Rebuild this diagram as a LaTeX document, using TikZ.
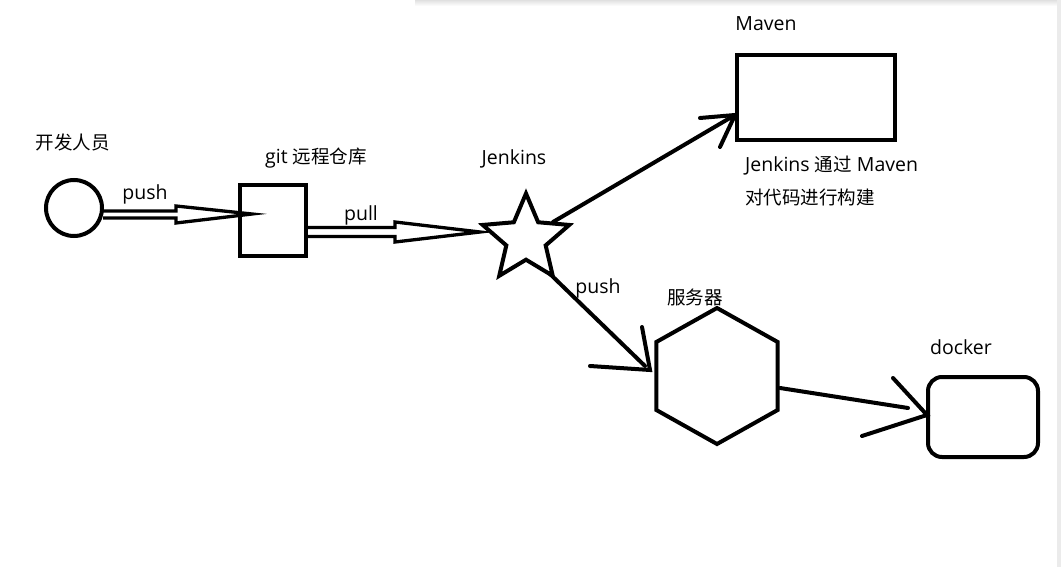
\documentclass[tikz,border=0pt]{standalone}
\usepackage{fontspec}
\setmainfont{Open Sans}
\newfontfamily\cjk{Noto Sans CJK SC}[Scale=0.95]
\usetikzlibrary{shapes.geometric,arrows.meta,calc}
\begin{document}
\begin{tikzpicture}[x=1pt,y=-1pt,
  shape line/.style={draw,line width=4pt,inner sep=0pt},
  hollow/.style={line width=3.3pt,line join=miter},
  lbl/.style={font=\fontsize{19.5}{23}\selectfont,inner sep=0pt,text height=13pt,text depth=4pt},
  conn/.style={line width=4pt,line cap=round},
]
\useasboundingbox (0,0) rectangle (1061,567);
\fill[white] (0,0) rectangle (1061,567);
\shade[top color=black!12,bottom color=white] (415,0) rectangle (1061,6);
\fill[black!8] (1057,0) rectangle (1061,567);

% nodes
\node[shape line,circle,minimum size=56pt] (dev) at (74,208) {};
\node[shape line,rectangle,minimum width=66pt,minimum height=71pt] (git) at (273,220.5) {};
\node[shape line,star,star points=5,star point ratio=2.2,minimum size=91pt] (jenkins) at (526,239) {};
\node[shape line,rectangle,minimum width=158pt,minimum height=85pt] (maven) at (816,97.5) {};
\node[shape line,regular polygon,regular polygon sides=6,shape border rotate=30,minimum size=136pt,xscale=1.03] (server) at (717,376) {};
\node[shape line,rectangle,rounded corners=14pt,minimum width=110pt,minimum height=80pt] (docker) at (983,417) {};

% labels
\node[lbl] (ldev) at (73,145) {\cjk 开发人员};
\node[lbl] (lgit) at (316,159) {git \cjk 远程仓库};
\node[lbl] (lpush1) at (145,195) {push};
\node[lbl] (lpull) at (361,216) {pull};
\node[lbl] (ljen) at (514,160) {Jenkins};
\node[lbl] (lmaven) at (766,26) {Maven};
\node[lbl,anchor=west] (lnote1) at (745,167) {Jenkins {\cjk 通过} Maven};
\node[lbl,anchor=west] (lnote2) at (745,200) {\cjk 对代码进行构建};
\node[lbl] (lpush2) at (598,289) {push};
\node[lbl] (lserver) at (695,300) {\cjk 服务器};
\node[lbl] (ldocker) at (961,350) {docker};

% tip coordinates
\coordinate (gittip) at (252,214);
\coordinate (jentip) at (480,232);
\coordinate (maventip) at (735,115);
\coordinate (servertip) at (650,370);
\coordinate (dockertip) at (927,415);

% hollow push arrow: developer -> git
\draw[hollow] ($(dev.east)+(-1,3)$) -- ($(gittip)+(-76,-3)$) -- ($(gittip)+(-76,-8)$)
  -- (gittip) -- ($(gittip)+(-76,9)$) -- ($(gittip)+(-76,4)$) -- ($(dev.east)+(-1,10)$);
% hollow pull arrow: git -> jenkins
\draw[hollow] ($(git.east)+(0,7)$) -- ($(jentip)+(-85,-4.5)$) -- ($(jentip)+(-85,-10)$)
  -- (jentip) -- ($(jentip)+(-85,10)$) -- ($(jentip)+(-85,4.5)$) -- ($(git.east)+(0,16)$);

% jenkins -> maven
\draw[conn] ($(jenkins.center)+(27,-17)$) -- (maventip);
\draw[conn] ($(maventip)+(-35,3)$) -- (maventip) -- ($(maventip)+(-15,32)$);
% jenkins -> server
\draw[conn] ($(jenkins.center)+(23,34)$) -- ($(servertip)+(-5,-4)$);
\draw[conn] ($(servertip)+(-8,-43)$) -- (servertip) -- ($(servertip)+(-60,-4)$);
% server -> docker
\draw[conn] ($(server.center)+(63,12)$) -- ($(dockertip)+(-19,-7)$);
\draw[conn] ($(dockertip)+(-34,-37)$) -- (dockertip) -- ($(dockertip)+(-65,21)$);
\end{tikzpicture}
\end{document}
